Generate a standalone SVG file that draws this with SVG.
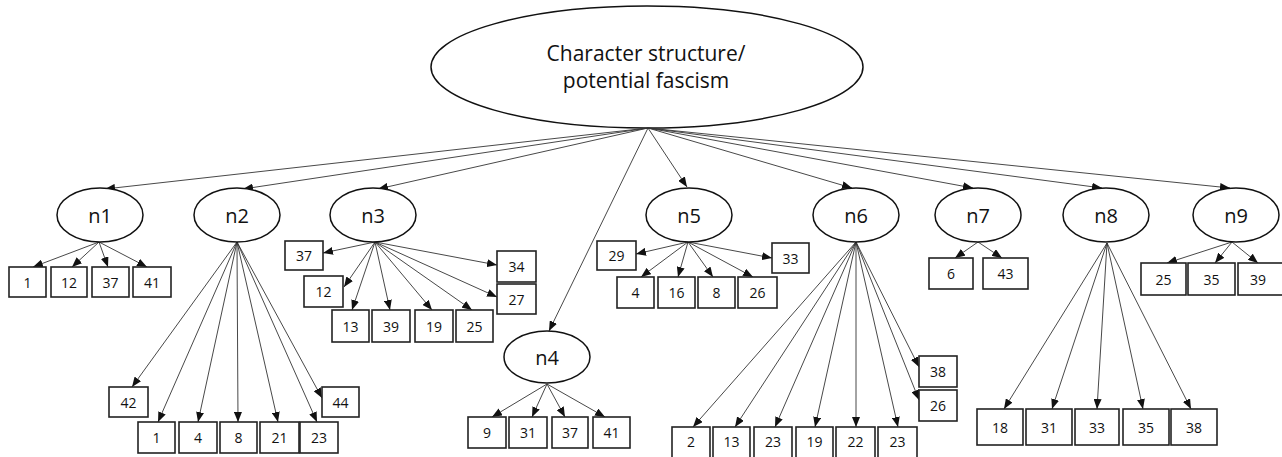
<svg xmlns="http://www.w3.org/2000/svg" width="1282" height="457" viewBox="0 0 1282 457">
<defs>
<marker id="ah" markerUnits="userSpaceOnUse" markerWidth="10" markerHeight="8" refX="10" refY="4" orient="auto"><path d="M0,0 L10,4 L0,8 z" fill="#111"/></marker>
<style>
.e{fill:#fff;stroke:#111;stroke-width:1.5}
.b{fill:#fff;stroke:#222;stroke-width:1.6}
.c line{stroke:#333;stroke-width:0.9;marker-end:url(#ah)}
text{font-family:"Open Sans","Liberation Sans",sans-serif;fill:#111;text-anchor:middle}
.t{font-size:21px}
.n{font-size:20px;dominant-baseline:central}
.l{font-size:14px;dominant-baseline:central}
</style>
</defs>
<rect width="1282" height="457" fill="#fff"/>
<g id="root"><ellipse class="e" cx="647" cy="67" rx="216" ry="61"/><text class="t" x="646" y="61">Character structure/</text><text class="t" x="646" y="88">potential fascism</text></g>
<g class="c" id="connectors">
<line x1="648" y1="128" x2="105" y2="189"/>
<line x1="648" y1="128" x2="243" y2="189"/>
<line x1="648" y1="128" x2="378" y2="189"/>
<line x1="648" y1="128" x2="549" y2="331"/>
<line x1="648" y1="128" x2="687" y2="187"/>
<line x1="648" y1="128" x2="852" y2="188"/>
<line x1="648" y1="128" x2="973" y2="188"/>
<line x1="648" y1="128" x2="1102" y2="188"/>
<line x1="648" y1="128" x2="1230" y2="188"/>
<line x1="99" y1="242" x2="33" y2="267"/>
<line x1="99" y1="242" x2="72" y2="267"/>
<line x1="99" y1="242" x2="108" y2="267"/>
<line x1="99" y1="242" x2="147" y2="267"/>
<line x1="237" y1="242" x2="132" y2="387"/>
<line x1="237" y1="242" x2="158" y2="422"/>
<line x1="237" y1="242" x2="198" y2="422"/>
<line x1="237" y1="242" x2="238" y2="422"/>
<line x1="237" y1="242" x2="278" y2="422"/>
<line x1="237" y1="242" x2="317" y2="422"/>
<line x1="237" y1="242" x2="322" y2="398"/>
<line x1="375" y1="242" x2="323" y2="253"/>
<line x1="375" y1="242" x2="344" y2="287"/>
<line x1="375" y1="242" x2="352" y2="310"/>
<line x1="375" y1="242" x2="390" y2="310"/>
<line x1="375" y1="242" x2="432" y2="310"/>
<line x1="375" y1="242" x2="472" y2="310"/>
<line x1="375" y1="242" x2="497" y2="265"/>
<line x1="375" y1="242" x2="497" y2="297"/>
<line x1="547" y1="384" x2="492" y2="417"/>
<line x1="547" y1="384" x2="532" y2="417"/>
<line x1="547" y1="384" x2="565" y2="417"/>
<line x1="547" y1="384" x2="605" y2="417"/>
<line x1="688" y1="242" x2="636" y2="254"/>
<line x1="688" y1="242" x2="641" y2="277"/>
<line x1="688" y1="242" x2="678" y2="277"/>
<line x1="688" y1="242" x2="713" y2="277"/>
<line x1="688" y1="242" x2="753" y2="277"/>
<line x1="688" y1="242" x2="772" y2="258"/>
<line x1="856" y1="242" x2="693" y2="427"/>
<line x1="856" y1="242" x2="735" y2="427"/>
<line x1="856" y1="242" x2="775" y2="427"/>
<line x1="856" y1="242" x2="815" y2="427"/>
<line x1="856" y1="242" x2="856" y2="427"/>
<line x1="856" y1="242" x2="898" y2="427"/>
<line x1="856" y1="242" x2="919" y2="367"/>
<line x1="856" y1="242" x2="919" y2="400"/>
<line x1="978" y1="242" x2="955" y2="258"/>
<line x1="978" y1="242" x2="1002" y2="258"/>
<line x1="1107" y1="243" x2="1004" y2="409"/>
<line x1="1107" y1="243" x2="1052" y2="409"/>
<line x1="1107" y1="243" x2="1097" y2="409"/>
<line x1="1107" y1="243" x2="1143" y2="409"/>
<line x1="1107" y1="243" x2="1191" y2="409"/>
<line x1="1232" y1="242" x2="1167" y2="263"/>
<line x1="1232" y1="242" x2="1215" y2="263"/>
<line x1="1232" y1="242" x2="1258" y2="263"/>
</g>
<g id="n1"><ellipse class="e" cx="100" cy="215" rx="43" ry="27"/><text class="n" x="100" y="215">n1</text>
<rect class="b" x="9" y="267" width="37" height="30"/><text class="l" x="27.5" y="282">1</text>
<rect class="b" x="51" y="267" width="36" height="30"/><text class="l" x="69" y="282">12</text>
<rect class="b" x="92" y="267" width="37" height="30"/><text class="l" x="110.5" y="282">37</text>
<rect class="b" x="133" y="267" width="38" height="30"/><text class="l" x="152" y="282">41</text></g>
<g id="n2"><ellipse class="e" cx="237" cy="215" rx="43" ry="27"/><text class="n" x="237" y="215">n2</text>
<rect class="b" x="109" y="387" width="39" height="30"/><text class="l" x="128.5" y="402">42</text>
<rect class="b" x="322" y="387" width="37" height="30"/><text class="l" x="340.5" y="402">44</text>
<rect class="b" x="138" y="422" width="37" height="31"/><text class="l" x="156.5" y="437.5">1</text>
<rect class="b" x="179" y="422" width="38" height="31"/><text class="l" x="198" y="437.5">4</text>
<rect class="b" x="220" y="422" width="37" height="31"/><text class="l" x="238.5" y="437.5">8</text>
<rect class="b" x="260" y="422" width="39" height="31"/><text class="l" x="279.5" y="437.5">21</text>
<rect class="b" x="300" y="422" width="38" height="31"/><text class="l" x="319" y="437.5">23</text></g>
<g id="n3"><ellipse class="e" cx="373" cy="215" rx="43" ry="27"/><text class="n" x="373" y="215">n3</text>
<rect class="b" x="285" y="241" width="38" height="29"/><text class="l" x="304" y="255.5">37</text>
<rect class="b" x="304" y="276" width="39" height="31"/><text class="l" x="323.5" y="291.5">12</text>
<rect class="b" x="332" y="310" width="37" height="32"/><text class="l" x="350.5" y="326">13</text>
<rect class="b" x="372" y="310" width="38" height="32"/><text class="l" x="391" y="326">39</text>
<rect class="b" x="415" y="310" width="38" height="32"/><text class="l" x="434" y="326">19</text>
<rect class="b" x="456" y="310" width="37" height="32"/><text class="l" x="474.5" y="326">25</text>
<rect class="b" x="497" y="251" width="39" height="31"/><text class="l" x="516.5" y="266.5">34</text>
<rect class="b" x="497" y="284" width="39" height="30"/><text class="l" x="516.5" y="299">27</text></g>
<g id="n4"><ellipse class="e" cx="547" cy="357" rx="43" ry="26"/><text class="n" x="547" y="357">n4</text>
<rect class="b" x="468" y="417" width="38" height="31"/><text class="l" x="487" y="432.5">9</text>
<rect class="b" x="509" y="417" width="38" height="31"/><text class="l" x="528" y="432.5">31</text>
<rect class="b" x="552" y="417" width="36" height="31"/><text class="l" x="570" y="432.5">37</text>
<rect class="b" x="593" y="417" width="37" height="31"/><text class="l" x="611.5" y="432.5">41</text></g>
<g id="n5"><ellipse class="e" cx="689" cy="215" rx="43" ry="27"/><text class="n" x="689" y="215">n5</text>
<rect class="b" x="597" y="241" width="39" height="29"/><text class="l" x="616.5" y="255.5">29</text>
<rect class="b" x="772" y="243" width="37" height="30"/><text class="l" x="790.5" y="258">33</text>
<rect class="b" x="617" y="277" width="37" height="31"/><text class="l" x="635.5" y="292.5">4</text>
<rect class="b" x="658" y="277" width="37" height="31"/><text class="l" x="676.5" y="292.5">16</text>
<rect class="b" x="698" y="277" width="37" height="31"/><text class="l" x="716.5" y="292.5">8</text>
<rect class="b" x="738" y="277" width="39" height="31"/><text class="l" x="757.5" y="292.5">26</text></g>
<g id="n6"><ellipse class="e" cx="856" cy="215" rx="43" ry="27"/><text class="n" x="856" y="215">n6</text>
<rect class="b" x="919" y="356" width="38" height="31"/><text class="l" x="938" y="371.5">38</text>
<rect class="b" x="919" y="390" width="38" height="31"/><text class="l" x="938" y="405.5">26</text>
<rect class="b" x="672" y="427" width="38" height="32"/><text class="l" x="691" y="441">2</text>
<rect class="b" x="713" y="427" width="37" height="32"/><text class="l" x="731.5" y="441">13</text>
<rect class="b" x="754" y="427" width="38" height="32"/><text class="l" x="773" y="441">23</text>
<rect class="b" x="796" y="427" width="37" height="32"/><text class="l" x="814.5" y="441">19</text>
<rect class="b" x="836" y="427" width="39" height="32"/><text class="l" x="855.5" y="441">22</text>
<rect class="b" x="878" y="427" width="39" height="32"/><text class="l" x="897.5" y="441">23</text></g>
<g id="n7"><ellipse class="e" cx="978" cy="215" rx="43" ry="27"/><text class="n" x="978" y="215">n7</text>
<rect class="b" x="929" y="258" width="44" height="31"/><text class="l" x="951" y="273.5">6</text>
<rect class="b" x="983" y="258" width="45" height="31"/><text class="l" x="1005.5" y="273.5">43</text></g>
<g id="n8"><ellipse class="e" cx="1106" cy="215" rx="43" ry="27"/><text class="n" x="1106" y="215">n8</text>
<rect class="b" x="977" y="409" width="46" height="36"/><text class="l" x="1000" y="427">18</text>
<rect class="b" x="1026" y="409" width="46" height="36"/><text class="l" x="1049" y="427">31</text>
<rect class="b" x="1075" y="409" width="44" height="36"/><text class="l" x="1097" y="427">33</text>
<rect class="b" x="1123" y="409" width="46" height="36"/><text class="l" x="1146" y="427">35</text>
<rect class="b" x="1171" y="409" width="46" height="36"/><text class="l" x="1194" y="427">38</text></g>
<g id="n9"><ellipse class="e" cx="1236" cy="215" rx="43" ry="27"/><text class="n" x="1236" y="215">n9</text>
<rect class="b" x="1141" y="263" width="45" height="32"/><text class="l" x="1163.5" y="279">25</text>
<rect class="b" x="1188" y="263" width="47" height="32"/><text class="l" x="1211.5" y="279">35</text>
<rect class="b" x="1238" y="263" width="45" height="32"/><text class="l" x="1258" y="279">39</text></g>
</svg>
